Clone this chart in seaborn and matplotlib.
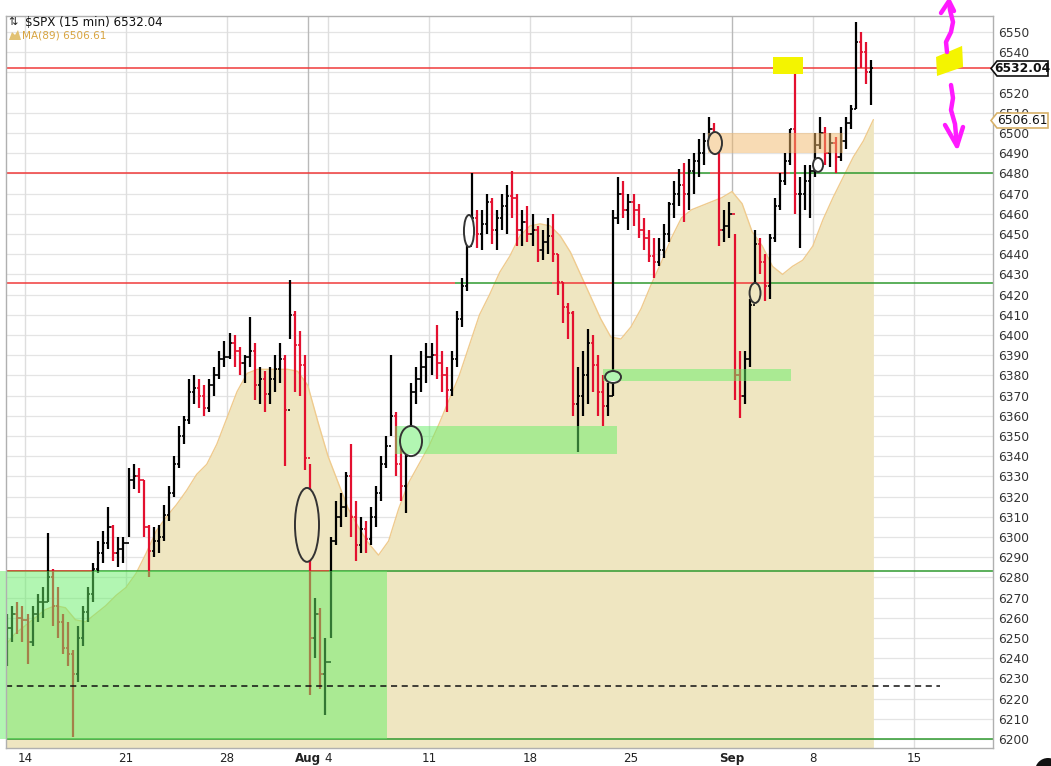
import matplotlib
matplotlib.use("Agg")
import numpy as np
import pandas as pd
import matplotlib.pyplot as plt
import seaborn as sns
from matplotlib.patches import Rectangle, Ellipse, Polygon
from matplotlib.lines import Line2D

# ---------------- data ----------------
sessions = ["2025-07-11",
            "2025-07-14", "2025-07-15", "2025-07-16", "2025-07-17", "2025-07-18",
            "2025-07-21", "2025-07-22", "2025-07-23", "2025-07-24", "2025-07-25",
            "2025-07-28", "2025-07-29", "2025-07-30", "2025-07-31", "2025-08-01",
            "2025-08-04", "2025-08-05", "2025-08-06", "2025-08-07", "2025-08-08",
            "2025-08-11", "2025-08-12", "2025-08-13", "2025-08-14", "2025-08-15",
            "2025-08-18", "2025-08-19", "2025-08-20", "2025-08-21", "2025-08-22",
            "2025-08-25", "2025-08-26", "2025-08-27", "2025-08-28", "2025-08-29",
            "2025-09-02", "2025-09-03", "2025-09-04", "2025-09-05",
            "2025-09-08", "2025-09-09", "2025-09-10"]
future_sessions = ["2025-09-11", "2025-09-12", "2025-09-15"]

tick_dates = ["2025-07-14", "2025-07-21", "2025-07-28", "2025-08-01", "2025-08-04",
              "2025-08-11", "2025-08-18", "2025-08-25", "2025-09-02", "2025-09-08",
              "2025-09-15"]
tick_labels = ["14", "21", "28", "Aug", "4", "11", "18", "25", "Sep", "8", "15"]
month_ticks = ["Aug", "Sep"]

# 4 bars per session (high / low / close)
highs = [6262, 6266, 6268, 6266,
         6262, 6266, 6272, 6275,
         6302, 6284, 6275, 6262,
         6258, 6244, 6256, 6266,
         6275, 6287, 6298, 6303,
         6315, 6306, 6300, 6300,
         6334, 6336, 6334, 6328,
         6306, 6305, 6306, 6316,
         6325, 6340, 6355, 6360,
         6378, 6380, 6378, 6375,
         6378, 6384, 6392, 6397,
         6401, 6400, 6394, 6390,
         6409, 6396, 6384, 6382,
         6384, 6390, 6396, 6390,
         6427, 6412, 6402, 6390,
         6336, 6270, 6265, 6250,
         6300, 6318, 6322, 6332,
         6346, 6318, 6310, 6308,
         6315, 6325, 6340, 6350,
         6390, 6362, 6345, 6342,
         6376, 6384, 6392, 6396,
         6396, 6405, 6392, 6384,
         6392, 6412, 6428, 6446,
         6480, 6462, 6462, 6470,
         6468, 6462, 6470, 6474,
         6481, 6470, 6462, 6464,
         6460, 6454, 6452, 6458,
         6460, 6440, 6426, 6416,
         6412, 6384, 6392, 6403,
         6400, 6390, 6380, 6376,
         6462, 6478, 6476, 6470,
         6470, 6465, 6458, 6452,
         6448, 6448, 6455, 6466,
         6476, 6482, 6485, 6487,
         6490, 6497, 6500, 6508,
         6505, 6496, 6462, 6466,
         6450, 6392, 6392, 6418,
         6452, 6448, 6440, 6450,
         6468, 6480, 6490, 6502,
         6533, 6478, 6484, 6484,
         6500, 6508, 6503, 6500,
         6498, 6503, 6508, 6514,
         6555, 6550, 6545, 6536]
lows = [6236, 6248, 6252, 6248,
        6237, 6246, 6258, 6260,
        6268, 6256, 6250, 6242,
        6236, 6201, 6228, 6246,
        6258, 6268, 6282, 6287,
        6294, 6288, 6285, 6287,
        6300, 6324, 6322, 6300,
        6280, 6290, 6292, 6298,
        6308, 6320, 6334, 6346,
        6356, 6366, 6364, 6360,
        6362, 6370, 6378, 6384,
        6388, 6384, 6380, 6376,
        6384, 6368, 6366, 6362,
        6366, 6372, 6376, 6335,
        6398, 6372, 6370, 6333,
        6222, 6240, 6225, 6212,
        6250, 6296, 6305, 6310,
        6300, 6288, 6292, 6292,
        6296, 6305, 6318, 6334,
        6350, 6330, 6318, 6312,
        6340, 6366, 6372, 6376,
        6380, 6378, 6372, 6362,
        6370, 6384, 6404, 6422,
        6446, 6443, 6442, 6450,
        6445, 6442, 6452, 6450,
        6458, 6444, 6444, 6446,
        6444, 6436, 6437, 6440,
        6436, 6420, 6406, 6398,
        6360, 6342, 6360, 6366,
        6372, 6360, 6355, 6360,
        6370, 6455, 6458, 6452,
        6454, 6448, 6442, 6436,
        6428, 6434, 6438, 6446,
        6458, 6464, 6456, 6462,
        6470, 6478, 6484, 6492,
        6490, 6444, 6446, 6448,
        6368, 6359, 6366, 6384,
        6418, 6430, 6417, 6418,
        6446, 6462, 6474, 6484,
        6460, 6443, 6462, 6458,
        6478, 6492, 6484, 6483,
        6480, 6486, 6492, 6502,
        6512, 6532, 6524, 6514]
closes = [6255, 6262, 6260, 6259,
          6248, 6262, 6268, 6268,
          6280, 6266, 6258, 6245,
          6242, 6232, 6250, 6263,
          6272, 6284, 6292, 6297,
          6305, 6292, 6294, 6297,
          6328, 6330, 6328, 6305,
          6293, 6298, 6300, 6311,
          6322, 6336, 6350, 6358,
          6372, 6374, 6370, 6364,
          6375, 6380, 6388, 6389,
          6396, 6392, 6386, 6389,
          6392, 6375, 6378, 6371,
          6378, 6383, 6388, 6363,
          6410, 6395, 6385, 6339,
          6250, 6262, 6232, 6238,
          6298, 6310, 6315, 6330,
          6310, 6296, 6304, 6299,
          6310, 6322, 6336, 6345,
          6360, 6336, 6325, 6340,
          6372, 6378, 6384, 6389,
          6390, 6386, 6380, 6373,
          6388, 6408, 6424, 6444,
          6458, 6450, 6455, 6466,
          6452, 6458, 6464, 6469,
          6468, 6452, 6456, 6450,
          6452, 6442, 6446, 6449,
          6440, 6426, 6414, 6411,
          6366, 6370, 6380, 6396,
          6385, 6372, 6365, 6370,
          6458, 6470, 6462, 6466,
          6462, 6452, 6448, 6439,
          6436, 6442, 6450, 6465,
          6470, 6474, 6470, 6481,
          6486, 6490, 6496, 6502,
          6495, 6452, 6454, 6460,
          6380, 6370, 6388, 6415,
          6445, 6436, 6424, 6448,
          6464, 6476, 6486, 6502,
          6470, 6470, 6476, 6481,
          6494, 6500, 6490, 6495,
          6488, 6496, 6505, 6512,
          6545, 6540, 6530, 6532]

# MA(89), read every half session from the start of the first session
ma89 = [6246, 6252, 6256, 6260, 6264, 6266, 6265, 6259, 6258, 6262,
        6266, 6271, 6275, 6282, 6292, 6303, 6310, 6316, 6323, 6331,
        6336, 6346, 6359, 6372, 6381, 6383, 6383, 6383, 6383, 6382,
        6375, 6357, 6340, 6327, 6314, 6305, 6297, 6291, 6298, 6314,
        6327, 6336, 6345, 6356, 6368, 6380, 6395, 6410, 6420, 6431,
        6439, 6449, 6454, 6455, 6454, 6449, 6441, 6430, 6419, 6408,
        6399, 6398, 6404, 6413, 6425, 6436, 6448, 6458, 6462, 6464,
        6466, 6468, 6471, 6465, 6451, 6444, 6434, 6430, 6434, 6437,
        6444, 6457, 6468, 6478, 6488, 6496, 6506.6]

last_close = 6532.04
last_ma = 6506.61
hidden_ytick_labels = [6530]  # covered by the last-price flag

BARS_PER_SESSION = 4
assert len(highs) == len(lows) == len(closes) == len(sessions) * BARS_PER_SESSION
assert len(ma89) == 2 * len(sessions) + 1

# ------------- drawn annotations (session units) -------------
X_LEFT, X_RIGHT = 0.06, 48.92
level_lines = [  # (price, start, end, colour key)
    (6532.04, X_LEFT, X_RIGHT, "r"),
    (6480, X_LEFT, 33.57, "r"), (6480, 33.57, 34.91, "g"),
    (6480, 34.91, 38.87, "r"), (6480, 38.87, X_RIGHT, "g"),
    (6425.5, X_LEFT, 22.29, "r"), (6425.5, 22.29, 27.09, "g"),
    (6425.5, 27.09, 30.11, "r"), (6425.5, 30.11, 36.15, "g"),
    (6425.5, 36.15, 37.88, "r"), (6425.5, 37.88, X_RIGHT, "g"),
    (6283, X_LEFT, X_RIGHT, "g"), (6283, X_LEFT, 4.32, "r"),
    (6283, 15.06, 16.05, "r"),
    (6200, X_LEFT, X_RIGHT, "g"),
]
dashed_level = (6226, X_LEFT, 46.3)
green_zones = [(-0.24, 18.92, 6200, 6283), (19.32, 30.31, 6341, 6355),
               (29.61, 38.92, 6377, 6383)]
orange_zones = [(34.81, 41.5, 6490, 6500)]
ellipses = [(14.96, 6306, 1.19, 36.6, "tan"), (20.11, 6347.5, 1.09, 14.9, "white"),
            (22.98, 6451.5, 0.50, 15.8, "white"), (35.16, 6495, 0.69, 10.9, "white"),
            (30.11, 6379.2, 0.79, 5.9, "white"), (37.14, 6420.8, 0.54, 9.9, "tan"),
            (40.26, 6484.2, 0.50, 6.9, "white")]
yellow_rect = (38.03, 39.51, 6529.2, 6537.6)
yellow_blob = [(46.10, 6537.6), (47.39, 6543.1), (47.44, 6532.7), (46.15, 6528.2)]

# ---------------- style ----------------
sns.set_theme(style="white")
plt.rcParams["font.family"] = ["DejaVu Sans"]

RED = "#e3102f"
LINE_RED = "#f03a3a"
LINE_GREEN = "#2f9a2f"
TAN = "#efe6c1"
TAN_EDGE = "#efcb8e"

W, H = 1051, 766
fig = plt.figure(figsize=(W / 100, H / 100), dpi=100)
fig.patch.set_facecolor("white")
ax = fig.add_axes([6 / W, 18 / H, 987 / W, 732 / H])
ax.set_facecolor("white")

def fx(px):
    return px / W

def fy(py):
    return 1 - py / H

# session index for dates
all_sessions = sessions + future_sessions
sess_idx = {d: i for i, d in enumerate(all_sessions)}
tick_x = [sess_idx[d] for d in tick_dates]

# grid
for yv in range(6200, 6560, 10):
    ax.axhline(yv, color="#e4e4e4", lw=0.9, zorder=0.5)
for xv, lab in zip(tick_x, tick_labels):
    ax.axvline(xv, color="#b9b9b9" if lab in month_ticks else "#dedede",
               lw=1.0, zorder=0.6)

# MA(89) shaded area
ma_df = pd.DataFrame({"x": np.arange(len(ma89)) * 0.5, "ma": ma89})
ax.fill_between(ma_df["x"], 6150, ma_df["ma"], color=TAN, lw=0, zorder=1)
sns.lineplot(data=ma_df, x="x", y="ma", color=TAN_EDGE, lw=1.0, ax=ax, zorder=1.2)

# level lines
for price, x0, x1, c in level_lines:
    ax.plot([x0, x1], [price, price], color=LINE_RED if c == "r" else LINE_GREEN,
            lw=1.1, zorder=2, solid_capstyle="butt")
ax.plot([dashed_level[1], dashed_level[2]], [dashed_level[0]] * 2, color="#111111",
        lw=1.1, ls=(0, (4, 3)), zorder=4.5)

# price bars
bars = pd.DataFrame({"high": highs, "low": lows, "close": closes})
n = len(bars)
bars["x"] = np.arange(n) // BARS_PER_SESSION + (np.arange(n) % BARS_PER_SESSION + 0.5) / BARS_PER_SESSION
prev = bars["close"].shift(1).fillna(bars["close"].iloc[0])
bars["color"] = np.where(bars["close"] >= prev, "#000000", RED)
bars["open"] = prev
ax.vlines(bars["x"], bars["low"], bars["high"], colors=bars["color"], lw=1.6, zorder=3)
ax.hlines(bars["close"], bars["x"], bars["x"] + 0.11, colors=bars["color"], lw=1.2, zorder=3)
ax.hlines(bars["open"], bars["x"] - 0.11, bars["x"], colors=bars["color"], lw=1.2, zorder=3)

# ellipses (fill part under overlays, outline above)
for cx, cy, ew, eh, fc in ellipses:
    ax.add_patch(Ellipse((cx, cy), ew, eh, facecolor=TAN if fc == "tan" else "white",
                         edgecolor="none", zorder=3.5))
    ax.add_patch(Ellipse((cx, cy), ew, eh, facecolor="none", edgecolor="#333333",
                         lw=1.4, zorder=5))

# translucent zones
for x0, x1, y0, y1 in green_zones:
    ax.add_patch(Rectangle((x0, y0), x1 - x0, y1 - y0, facecolor="#66ee66", alpha=0.5,
                           edgecolor="none", zorder=4, clip_on=False))
for x0, x1, y0, y1 in orange_zones:
    ax.add_patch(Rectangle((x0, y0), x1 - x0, y1 - y0, facecolor="#f2b86a", alpha=0.5,
                           edgecolor="none", zorder=4))

# yellow highlights
ax.add_patch(Rectangle((yellow_rect[0], yellow_rect[2]), yellow_rect[1] - yellow_rect[0],
                       yellow_rect[3] - yellow_rect[2], facecolor="#f4f400",
                       edgecolor="none", zorder=6))
ax.add_patch(Polygon(yellow_blob, closed=True, facecolor="#f4f400", edgecolor="none",
                     zorder=6))

# axes limits & ticks
ax.set_xlim(X_LEFT, X_RIGHT)
ax.set_ylim(6195.55, 6557.9)
ax.set_xlabel("")
ax.set_ylabel("")
ax.yaxis.tick_right()
yt = list(range(6200, 6551, 10))
ax.set_yticks(yt)
ax.set_yticklabels(["" if v in hidden_ytick_labels else str(v) for v in yt])
ax.tick_params(axis="y", length=0, pad=4, labelsize=8.8, labelcolor="#333333")
ax.set_xticks(tick_x)
ax.set_xticklabels(tick_labels)
ax.tick_params(axis="x", length=0, pad=3, labelsize=8.6, labelcolor="#222222")
for t in ax.get_xticklabels():
    if t.get_text() in month_ticks:
        t.set_fontweight("bold")
for s in ax.spines.values():
    s.set_color("#b0b0b0")
    s.set_linewidth(1.0)
    s.set_zorder(7)

# title texts
fig.text(fx(8), fy(22), "\u21c5", fontsize=8, va="center", ha="left", color="#222222")
fig.text(fx(25), fy(22), "$SPX (15 min) %.2f" % last_close, fontsize=8.6,
         va="center", ha="left", color="#111111")
fig.patches.append(Polygon([(fx(9), fy(40)), (fx(12), fy(32)), (fx(15), fy(35)),
                            (fx(18), fy(30)), (fx(21), fy(40))], closed=True,
                           transform=fig.transFigure, facecolor="#e2c274",
                           edgecolor="none"))
fig.text(fx(22), fy(35.5), "MA(89) %.2f" % last_ma, fontsize=7.6, va="center",
         ha="left", color="#d8a440")

# price flags on right axis
def flag(py, text, edge, weight):
    pts = [(fx(991), fy(py)), (fx(997), fy(py - 7.5)), (fx(1048), fy(py - 7.5)),
           (fx(1048), fy(py + 7.5)), (fx(997), fy(py + 7.5))]
    fig.patches.append(Polygon(pts, closed=True, transform=fig.transFigure,
                               facecolor="white", edgecolor=edge, lw=1.2, zorder=5))
    fig.text(fx(1022), fy(py), text, fontsize=8.8, fontweight=weight, va="center",
             ha="center", color="#111111", zorder=6)

flag(68.5, "%.2f" % last_close, "#111111", "bold")
flag(120.5, "%.2f" % last_ma, "#d8b26a", "normal")

# hand-drawn magenta arrows (figure pixels)
MAG = "#ff1aff"
def stroke(points, lw=3.2):
    fig.lines.append(Line2D([fx(p[0]) for p in points], [fy(p[1]) for p in points],
                            transform=fig.transFigure, color=MAG, lw=lw,
                            solid_capstyle="round", solid_joinstyle="round", zorder=8))

stroke([(947, 52), (946, 42), (951, 32), (953, 22), (950, 10), (949, 2)])
stroke([(941, 13), (949, 1), (954, 11)])
stroke([(951, 85), (953, 98), (951, 110), (955, 124), (957, 146)])
stroke([(945, 125), (957, 146), (963, 127)])

# dark blob at bottom-right corner
fig.patches.append(Ellipse((fx(1048), fy(771)), 26 / W, 26 / H, transform=fig.transFigure,
                           facecolor="#111111", edgecolor="none"))

fig.savefig("out.png", dpi=100)
